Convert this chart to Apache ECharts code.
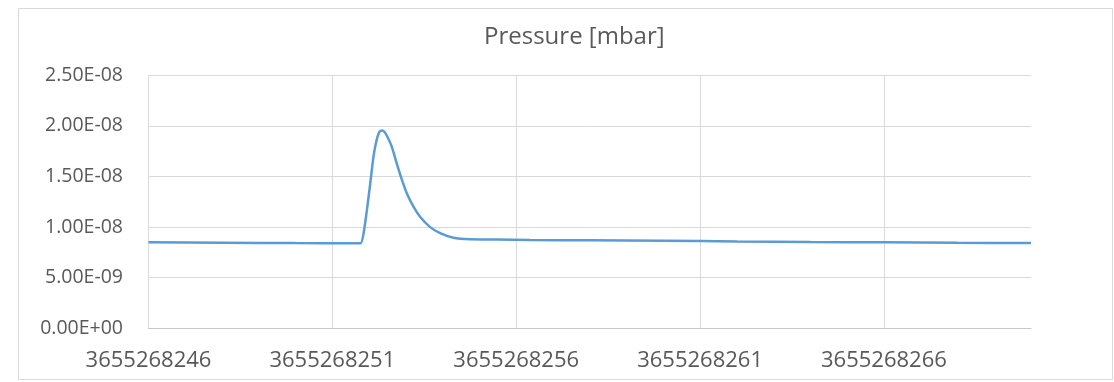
<!DOCTYPE html>
<html>
<head>
<meta charset="utf-8">
<script src="https://cdn.jsdelivr.net/npm/echarts@6/dist/echarts.min.js"></script>
<style>
  html, body { margin: 0; padding: 0; background: #fff; }
  #chart { width: 1114px; height: 382px; }
</style>
</head>
<body>
<div id="chart"></div>
<script>
// Timestamps (s) and pressure readings (mbar)
const times = [
  3655268246.00, 3655268248.00, 3655268250.00, 3655268251.50, 3655268251.77,
  3655268251.85, 3655268251.94, 3655268252.03, 3655268252.12, 3655268252.21,
  3655268252.28, 3655268252.35, 3655268252.42, 3655268252.50, 3655268252.62,
  3655268252.75, 3655268252.89, 3655268253.03, 3655268253.21, 3655268253.39,
  3655268253.66, 3655268253.93, 3655268254.29, 3655268254.75, 3655268255.47,
  3655268256.38, 3655268258.00, 3655268260.00, 3655268262.00, 3655268264.00,
  3655268266.00, 3655268268.00, 3655268270.00
];
const pressure = [
  8.50e-9, 8.46e-9, 8.42e-9, 8.40e-9, 8.40e-9,
  9.40e-9, 1.17e-8, 1.43e-8, 1.70e-8, 1.87e-8,
  1.94e-8, 1.955e-8, 1.94e-8, 1.89e-8, 1.79e-8,
  1.63e-8, 1.47e-8, 1.33e-8, 1.20e-8, 1.10e-8,
  1.00e-8, 9.40e-9, 8.95e-9, 8.80e-9, 8.78e-9,
  8.72e-9, 8.70e-9, 8.65e-9, 8.58e-9, 8.53e-9,
  8.50e-9, 8.45e-9, 8.42e-9
];
const yTicks = { min: 0, max: 2.5e-8, step: 5e-9 };
const xTicks = { min: 3655268246, max: 3655268270, step: 5 };

// Format like 2.50E-08
function sci(v) {
  const s = Number(v).toExponential(2).toUpperCase();
  return s.replace(/E([+-])(\d)$/, 'E$10$2');
}

const chart = echarts.init(document.getElementById('chart'));
chart.setOption({
  animation: false,
  backgroundColor: '#ffffff',
  textStyle: { fontFamily: 'Open Sans' },
  graphic: [{
    type: 'rect',
    shape: { x: 18.5, y: 8.5, width: 1094, height: 371 },
    style: { fill: 'none', stroke: '#d9d9d9', lineWidth: 1 },
    silent: true
  }],
  title: {
    text: 'Pressure [mbar]',
    left: 479,
    top: 20,
    textStyle: { fontFamily: 'Open Sans', fontSize: 24, fontWeight: 'normal', color: '#595959' }
  },
  grid: { left: 148.5, right: 83, top: 75.3, bottom: 53.7 },
  xAxis: {
    type: 'value',
    min: xTicks.min,
    max: xTicks.max,
    interval: xTicks.step,
    axisLine: { show: true, lineStyle: { color: '#c8c8c8', width: 1 } },
    axisTick: { show: false },
    axisLabel: {
      showMaxLabel: false,
      margin: 21,
      fontSize: 22,
      color: '#595959',
      formatter: v => String(v)
    },
    splitLine: { show: true, showMaxLine: false, lineStyle: { color: '#d9d9d9', width: 1 } }
  },
  yAxis: {
    type: 'value',
    min: yTicks.min,
    max: yTicks.max,
    interval: yTicks.step,
    axisLine: { show: false },
    axisTick: { show: false },
    axisLabel: { margin: 25.5, fontSize: 19.5, color: '#595959', formatter: sci },
    splitLine: { show: true, lineStyle: { color: '#d9d9d9', width: 1 } }
  },
  series: [{
    type: 'line',
    data: times.map((t, i) => [t, pressure[i]]),
    showSymbol: false,
    smooth: 0.2,
    lineStyle: { color: '#5b9bd5', width: 2.5 }
  }]
});
</script>
</body>
</html>
